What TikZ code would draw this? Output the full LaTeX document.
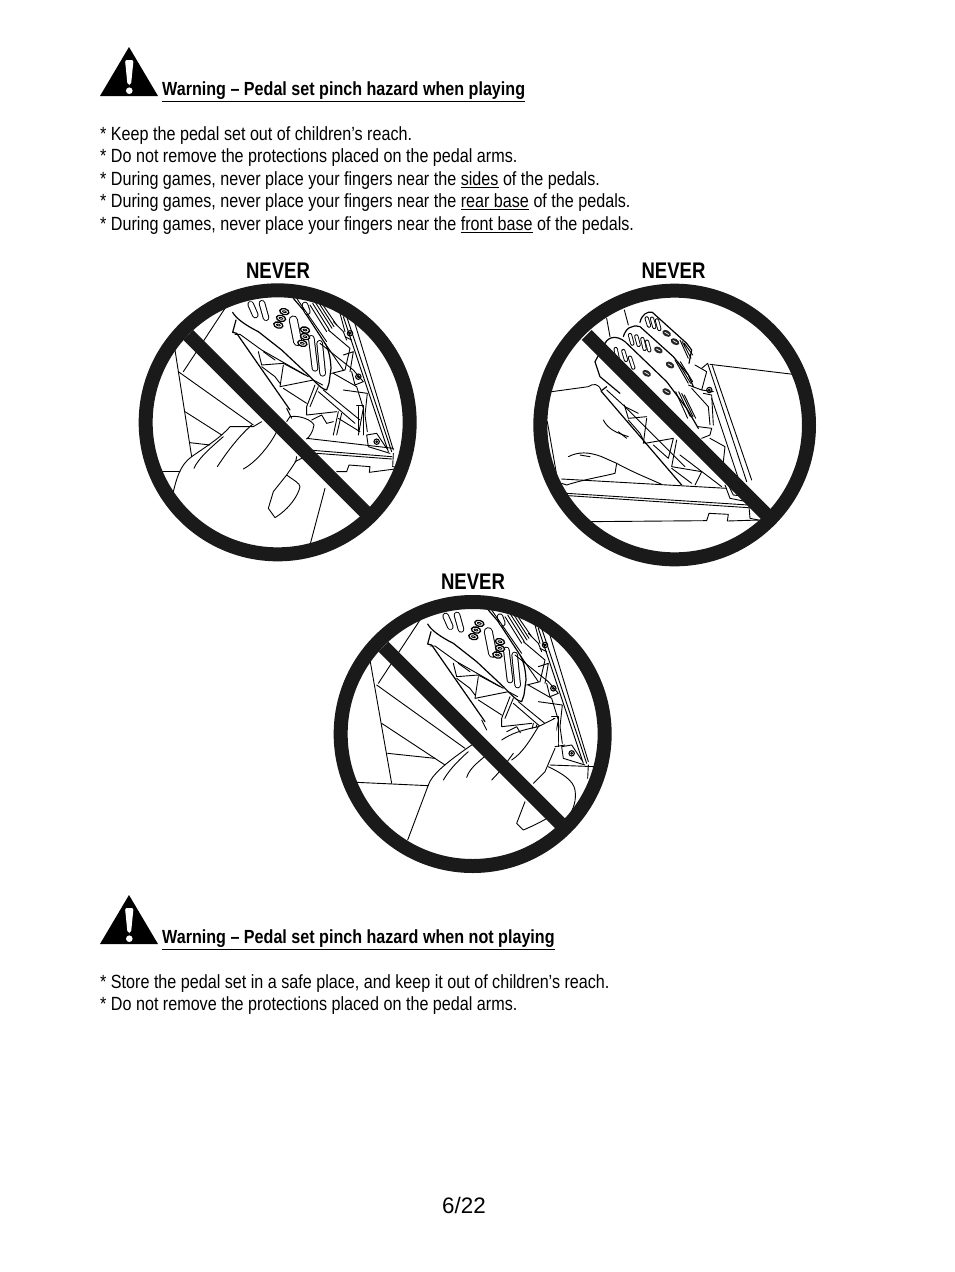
\documentclass[tikz,border=0pt]{standalone}
\usepackage{fontspec}
\setmainfont{Liberation Sans}
\newfontfamily\narrowf[FakeStretch=0.845]{Liberation Sans}
\newfontfamily\narrowb[FakeStretch=0.848,BoldFont={Liberation Sans Bold}]{Liberation Sans}
\newfontfamily\neverb[FakeStretch=0.82,BoldFont={Liberation Sans Bold}]{Liberation Sans}
\newcommand{\ulx}[1]{\vtop{\hbox{#1}\kern1.6pt\hrule height 1pt}}
\definecolor{ringk}{HTML}{1A1A1A}
\tikzset{
  body/.style={anchor=base west,inner sep=0pt,font=\narrowf\fontsize{19.1}{20}\selectfont},
  head/.style={anchor=base west,inner sep=0pt,font=\narrowb\bfseries\fontsize{19}{20}\selectfont},
  nevertxt/.style={anchor=base,inner sep=0pt,font=\neverb\bfseries\fontsize{22.6}{24}\selectfont},
  pageno/.style={anchor=base,inner sep=0pt,font=\fontsize{22.4}{24}\selectfont},
  art/.style={line width=0.9pt,black,line join=round,line cap=round},
  thick art/.style={line width=1.2pt,black,line join=round,line cap=round},
  warnpic/.pic={
    \fill[black] (29,-1) -- (58,48) -- (0,48) -- cycle;
    \fill[white,rounded corners=2pt] (25,12) -- (33.5,12) -- (31,37) -- (27.5,37) -- cycle;
    \fill[white] (29.3,42.7) circle [radius=3.3];
  }
}
\newcommand{\slotbar}[2]{%
  \draw[line width=6.6pt,line cap=round,black] #1 -- #2;
  \draw[line width=4.6pt,line cap=round,white] #1 -- #2;}
\newcommand{\slimslot}[2]{%
  \draw[line width=4.2pt,line cap=round,black] #1 -- #2;
  \draw[line width=2.4pt,line cap=round,white] #1 -- #2;}
\newcommand{\ovalmark}[2]{%
  \draw[line width=1.3pt,black,fill=white,rotate around={#2:#1}] #1 ellipse [x radius=14,y radius=9];
  \draw[line width=0.8pt,black,rotate around={#2:#1}] #1 ellipse [x radius=6,y radius=2.5];}
\newcommand{\darkoval}[2]{%
  \fill[black!85,rotate around={#2:#1}] #1 ellipse [x radius=14,y radius=9];
  \draw[white,line width=0.7pt,rotate around={#2:#1}] #1 ++(-7,0) -- ++(14,0);}
\newcommand{\screwmark}[1]{%
  \draw[line width=1.1pt,black] #1 circle [radius=8];
  \draw[art] #1 circle [radius=3];}
\newcommand{\pedalA}{%
  % plate
  \draw[thick art] (308,112) .. controls (318,130) and (345,150) .. (385,170) -- (455,225) -- (535,300) .. controls (560,325) and (578,345) .. (590,345) -- (597,325) -- (603,280) .. controls (602,250) and (595,220) .. (585,205) -- (520,105) -- (490,70);
  \slotbar{(362,88)}{(376,120)}
  \slotbar{(396,85)}{(408,128)}
  \draw[line width=9pt,line cap=round,black] (490,135) -- (503,200);
  \draw[line width=7pt,line cap=round,white] (490,135) -- (503,200);
  \slotbar{(544,190)}{(555,280)}
  \slotbar{(569,205)}{(578,295)}
  \ovalmark{(445,150)}{-15}
  \ovalmark{(453,130)}{-15}
  \ovalmark{(463,110)}{-15}
  \ovalmark{(517,205)}{-15}
  \ovalmark{(525,185)}{-15}
  \ovalmark{(525,165)}{-15}
  \slotbar{(525,90)}{(532,110)}
  \draw[art] (540,90) -- (590,170) (548,85) -- (598,165) (556,82) -- (606,160) (564,80) -- (612,155) (572,80) -- (620,150);
  \draw[art] (500,70) -- (590,200) (585,205) -- (640,285);
  % frame
  \draw[thick art] (318,135) -- (308,172) -- (320,175) -- (480,405);
  \draw[art] (315,178) -- (330,178) -- (395,225) -- (535,305);
  \draw[art] (385,230) -- (395,270) -- (460,265) -- (525,300);
  \draw[art] (400,230) -- (435,255) (395,275) -- (435,305) -- (450,325);
  \draw[art] (460,270) -- (450,335) -- (550,315) -- (578,330);
  \draw[art] (460,340) -- (530,385) (530,395) -- (555,330) (540,395) -- (565,335);
  \draw[art] (565,350) -- (675,445) (580,345) -- (690,435);
  \draw[art] (530,420) -- (620,410) (530,395) -- (530,420);
  \draw[art] (545,435) -- (575,420) -- (590,445) -- (610,440) (625,410) -- (610,480) (635,415) -- (620,480);
  \draw[art] (625,430) -- (690,470) (470,400) -- (485,430);
  % right rail
  \draw[art] (650,125) -- (785,530) (670,130) -- (790,525) (640,125) -- (775,530);
  \draw[art] (630,115) -- (645,170) (610,140) -- (640,170) -- (650,195);
  \draw[art] (595,165) -- (660,220) -- (645,285) -- (605,295);
  \draw[art] (640,240) -- (670,230) -- (660,290);
  \draw[art] (570,205) -- (670,285) -- (700,320) -- (675,330) -- (665,290);
  \draw[art] (610,295) -- (680,335) -- (700,400) -- (685,480);
  \draw[art] (640,345) -- (712,355) -- (705,420) -- (712,470);
  \draw[art] (680,390) -- (700,390) -- (700,480) (685,395) -- (685,470);
  \draw[art] (710,480) -- (715,515) -- (780,535) (710,480) -- (740,475) -- (770,520);
  \draw[art] (645,185) -- (665,195);
  \screwmark{(660,175)}
  \screwmark{(685,305)}
  \screwmark{(740,500)}
}
\newcommand{\pedalB}{%
  \draw[art] (245,130) -- (255,185) (298,105) -- (310,150);
  \draw[thick art] (345,142) .. controls (350,120) and (365,108) .. (382,112) -- (485,205) -- (500,225) -- (492,265);
  \draw[thick art] (295,185) .. controls (302,160) and (320,148) .. (345,155) -- (445,245) -- (490,300) -- (505,335);
  \draw[thick art] (240,205) .. controls (250,185) and (275,180) .. (300,200) -- (425,320) -- (485,400) -- (520,460);
  \draw[thick art] (240,205) -- (210,260) -- (225,305) -- (285,355);
  \slimslot{(365,130)}{(372,152)}
  \slimslot{(381,131)}{(388,156)}
  \slimslot{(396,136)}{(403,162)}
  \slimslot{(315,180)}{(322,206)}
  \slimslot{(334,184)}{(341,210)}
  \slimslot{(352,192)}{(359,222)}
  \slimslot{(366,200)}{(373,226)}
  \slimslot{(272,222)}{(278,250)}
  \slimslot{(295,228)}{(303,255)}
  \slimslot{(315,248)}{(325,278)}
  \darkoval{(425,175)}{-30}
  \darkoval{(450,200)}{-30}
  \darkoval{(400,225)}{-30}
  \darkoval{(435,270)}{-30}
  \darkoval{(365,295)}{-30}
  \darkoval{(425,350)}{-30}
  \draw[art] (465,195) -- (490,250) (472,200) -- (498,250) (478,205) -- (503,240);
  \draw[art] (450,255) -- (490,325) (458,260) -- (497,325) (466,260) -- (503,320);
  \draw[art] (452,350) -- (488,430) (461,350) -- (496,425) (470,355) -- (504,425) (478,360) -- (512,430);
  % hand
  \draw[art] (80,350) -- (190,335) .. controls (205,325) and (220,325) .. (228,345);
  \draw[art] (235,435) .. controls (250,465) and (280,475) .. (310,485);
  \draw[art] (130,545) .. controls (160,530) and (190,530) .. (230,545) -- (275,565) -- (270,595) .. controls (230,605) and (170,615) .. (125,630) -- (110,625);
  \draw[art] (275,565) .. controls (320,590) and (370,610) .. (410,628);
  \draw[art] (165,540) -- (195,545) (280,470) -- (305,490);
  \draw[art] (67,440) -- (95,600);
  % frame
  \draw[thick art] (228,348) -- (245,335) (228,348) -- (470,630);
  \draw[art] (245,345) -- (300,395) -- (480,575);
  \draw[art] (298,390) -- (310,430) -- (365,425) (300,395) -- (340,415);
  \draw[art] (310,435) -- (345,475) -- (360,505) -- (445,490) -- (430,550) -- (385,510);
  \draw[art] (365,430) -- (355,505);
  \draw[art] (455,495) -- (440,575) -- (530,590) -- (510,630);
  \draw[art] (440,580) -- (500,625) (465,540) -- (590,635);
  % base
  \draw[art] (110,612) -- (605,640);
  \draw[art] (125,655) -- (670,690) (130,662) -- (670,698);
  \draw[art] (190,740) -- (545,737) -- (552,715) -- (610,718) -- (607,738) -- (705,735);
  \draw[art] (672,695) -- (675,730) -- (700,735);
  % rail
  \draw[art] (555,268) -- (805,298);
  \draw[art] (548,265) -- (665,620) (530,280) -- (548,265) (562,272) -- (680,615);
  \draw[art] (560,370) -- (640,610);
  \draw[art] (510,270) -- (545,290) -- (530,345) -- (565,350) (490,330) -- (530,345);
  \draw[art] (500,340) -- (550,395) -- (555,450) (535,355) -- (560,360) -- (565,450);
  \draw[art] (520,455) -- (560,460) -- (555,480) -- (530,490);
  \draw[art] (555,490) -- (600,515) -- (595,560);
  \draw[art] (600,630) -- (615,670) -- (665,680) (610,630) -- (625,660) -- (670,665);
  \screwmark{(553,345)}
}
\begin{document}
\begin{tikzpicture}[x=1pt,y=-1pt]
\useasboundingbox (0,0) rectangle (954,1272);
\fill[white] (0,0) rectangle (954,1272);
% top warning
\pic at (100,48) {warnpic};
\node[head] (t1) at (162,95) {\ulx{Warning – Pedal set pinch hazard when playing}};
\node[body] (l1) at (100,140) {* Keep the pedal set out of children’s reach.};
\node[body] (l2) at (100,162.5) {* Do not remove the protections placed on the pedal arms.};
\node[body] (l3) at (100,185) {* During games, never place your fingers near the \ulx{sides} of the pedals.};
\node[body] (l4) at (100,207.5) {* During games, never place your fingers near the \ulx{rear base} of the pedals.};
\node[body] (l5) at (100,230) {* During games, never place your fingers near the \ulx{front base} of the pedals.};
\node[nevertxt] (n1) at (278,278.5) {NEVER};
\node[nevertxt] (n2) at (673.5,278.5) {NEVER};
\node[nevertxt] (n3) at (473,589.5) {NEVER};
% drawing 1
\begin{scope}[shift={(130,275)},x=0.33333pt,y=-0.33333pt]
  \begin{scope}
  \clip (443,442) circle [radius=385];
  \pedalA
  \draw[art] (135,225) -- (185,545);
  \draw[art] (145,290) -- (370,450);
  \draw[art] (165,410) -- (275,480);
  \draw[art] (180,503) -- (240,510);
  \draw[art] (95,590) -- (150,590);
  \draw[art] (160,290) -- (285,100);
  % hand
  \draw[art] (130,650) .. controls (140,610) and (150,570) .. (185,545) .. controls (220,520) and (270,490) .. (300,455) -- (370,455) -- (395,440);
  \draw[art] (192,580) .. controls (205,550) and (240,520) .. (280,485);
  \draw[art] (262,575) .. controls (285,540) and (320,490) .. (365,450);
  \draw[art] (340,582) .. controls (380,560) and (420,510) .. (440,470);
  \draw[art] (480,425) .. controls (510,420) and (545,435) .. (552,450) .. controls (550,470) and (535,490) .. (530,492);
  \draw[art] (470,440) -- (480,425);
  \draw[art] (515,550) -- (495,560) (500,545) -- (497,560) -- (470,600) .. controls (490,615) and (510,625) .. (510,635) .. controls (505,660) and (480,700) .. (435,728) -- (415,700) -- (430,650) -- (470,600);
  \draw[art] (585,640) -- (540,810);
  \draw[art] (535,525) -- (785,545) (560,535) -- (785,552);
  \draw[art] (530,490) -- (790,520);
  \draw[art] (790,535) -- (788,575) -- (810,578);
  \draw[art] (620,590) -- (650,590) -- (657,570) -- (720,575) -- (718,592) -- (810,580);
  \end{scope}
  \draw[ringk,line width=14pt] (443,442) circle [radius=396];
  \draw[ringk,line width=14pt] (175,180) -- (712,717);
\end{scope}
% drawing 2
\begin{scope}[shift={(525,275)},x=0.33333pt,y=-0.33333pt]
  \begin{scope}
  \clip (449,450) circle [radius=390];
  \pedalB
  \end{scope}
  \draw[ringk,line width=14pt] (449,450) circle [radius=403];
  \draw[ringk,line width=14pt] (185,180) -- (727,722);
\end{scope}
% drawing 3
\begin{scope}[shift={(325,586.67)},x=0.33333pt,y=-0.33333pt]
  \begin{scope}
  \clip (443,442) circle [radius=385];
  \pedalA
  \draw[art] (135,220) -- (200,590);
  \draw[art] (155,295) -- (420,485);
  \draw[art] (170,410) -- (360,535);
  \draw[art] (188,500) -- (330,515);
  \draw[art] (95,587) -- (310,597);
  \draw[art] (160,290) -- (285,100);
  % hand
  \fill[white] (530,460) -- (640,420) -- (690,395) -- (700,470) -- (680,540) -- (600,600) -- (500,520) -- cycle;
  \draw[art] (248,760) -- (310,595) .. controls (320,565) and (360,530) .. (440,475);
  \draw[art] (355,580) .. controls (370,555) and (390,530) .. (430,495);
  \draw[art] (425,572) .. controls (435,540) and (470,520) .. (500,490);
  \draw[art] (500,580) .. controls (530,550) and (550,520) .. (565,500);
  \draw[art] (530,460) .. controls (560,440) and (590,430) .. (640,420) -- (690,395);
  \draw[art] (560,520) .. controls (590,500) and (610,470) .. (640,420);
  \draw[art] (690,485) -- (660,555) -- (625,590);
  \draw[art] (670,540) .. controls (710,560) and (745,580) .. (750,610) .. controls (755,640) and (745,670) .. (730,690);
  \draw[art] (600,645) -- (575,710) -- (595,730) .. controls (630,715) and (660,700) .. (690,680);
  \draw[art] (675,535) -- (810,540) (690,480) -- (720,475);
  \draw[art] (790,535) -- (788,575);
  \end{scope}
  \draw[ringk,line width=14pt] (443,442) circle [radius=396];
  \draw[ringk,line width=14pt] (175,180) -- (712,717);
\end{scope}
% bottom warning
\pic at (100,896) {warnpic};
\node[head] (t2) at (162,943) {\ulx{Warning – Pedal set pinch hazard when not playing}};
\node[body] (l6) at (100,988) {* Store the pedal set in a safe place, and keep it out of children’s reach.};
\node[body] (l7) at (100,1010.5) {* Do not remove the protections placed on the pedal arms.};
\node[pageno] (pg) at (464,1213.5) {6/22};
\end{tikzpicture}
\end{document}
